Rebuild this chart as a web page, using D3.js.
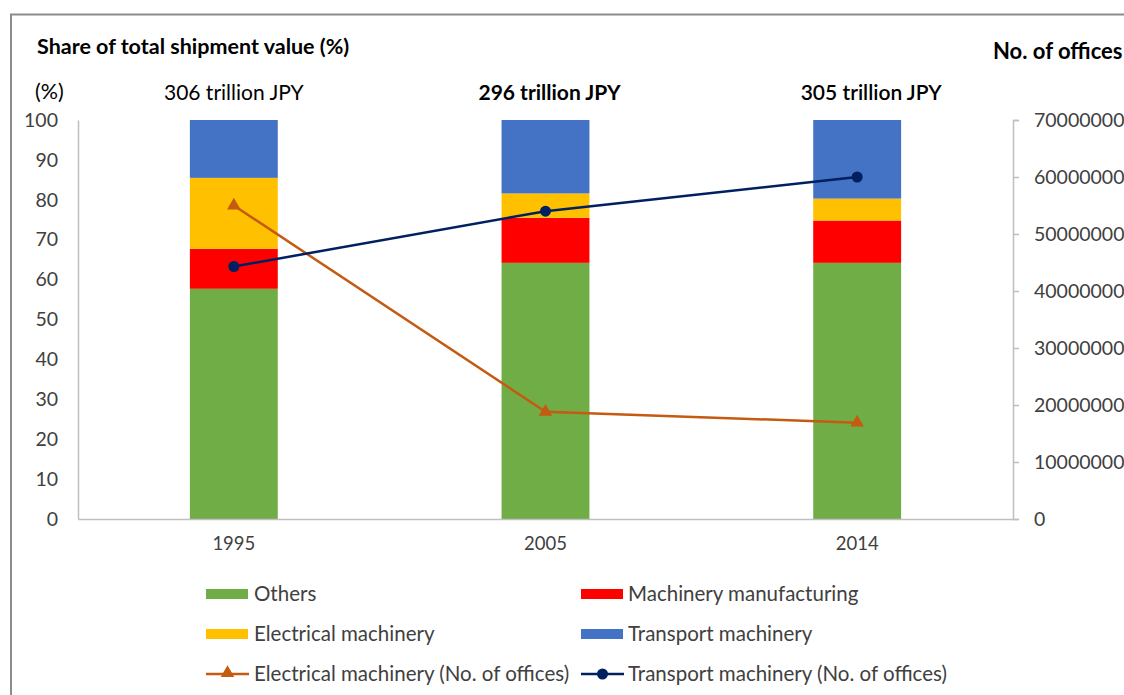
<!DOCTYPE html>
<html>
<head>
<meta charset="utf-8">
<script src="https://cdn.jsdelivr.net/npm/d3@7/dist/d3.min.js"></script>
<style>
  html, body { margin: 0; padding: 0; background: #fff; }
  svg { display: block; font-family: Lato, "Open Sans", sans-serif; }
</style>
</head>
<body>
<svg id="chart" width="1124" height="695"></svg>
<script>
// ---- data ----
const years = ["1995", "2005", "2014"];
const seriesNames = ["Others", "Machinery manufacturing", "Electrical machinery", "Transport machinery"];
const others = [57.7, 64.2, 64.2];
const machinery = [10.0, 11.3, 10.6];
const electrical = [17.8, 6.1, 5.5];
const transport = [14.5, 18.4, 19.7];
const totals = ["306 trillion JPY", "296 trillion JPY", "305 trillion JPY"];
const totalWeights = [400, 700, 600];
const elecOffices = [55000000, 18800000, 16900000];
const transOffices = [44300000, 54000000, 60000000];
const leftTicks = [0, 10, 20, 30, 40, 50, 60, 70, 80, 90, 100];
const rightTicks = [0, 10000000, 20000000, 30000000, 40000000, 50000000, 60000000, 70000000];
const lineNames = ["Electrical machinery (No. of offices)", "Transport machinery (No. of offices)"];

const colors = {
  "Others": "#70AD47",
  "Machinery manufacturing": "#FF0000",
  "Electrical machinery": "#FFC000",
  "Transport machinery": "#4472C4"
};
const elecLineColor = "#C55A11";
const transLineColor = "#002060";

const svg = d3.select("#chart");

// border
svg.append("path")
  .attr("d", "M11,700 L11,14.5 L1130,14.5")
  .attr("fill", "none").attr("stroke", "#8c8c8c").attr("stroke-width", 2);

const pL = 78, pR = 1013, pT = 120, pB = 519;

const x = d3.scaleBand().domain(years).range([pL, pR]).paddingInner(0.718).paddingOuter(0.359);
const y = d3.scaleLinear().domain([0, 100]).range([pB, pT]);
const y2 = d3.scaleLinear().domain([0, 70000000]).range([pB, pT]);

const table = years.map((yr, i) => ({
  year: yr,
  "Others": others[i],
  "Machinery manufacturing": machinery[i],
  "Electrical machinery": electrical[i],
  "Transport machinery": transport[i]
}));
const stacked = d3.stack().keys(seriesNames)(table);

// bars
svg.append("g").selectAll("g").data(stacked).join("g")
  .attr("fill", d => colors[d.key])
  .selectAll("rect").data(d => d).join("rect")
  .attr("x", d => x(d.data.year))
  .attr("width", x.bandwidth())
  .attr("y", d => y(d[1]))
  .attr("height", d => y(d[0]) - y(d[1]));

// axes
const textColor = "#404040";
const axisColor = "#BFBFBF";

const gl = svg.append("g").attr("transform", `translate(${pL},0)`)
  .call(d3.axisLeft(y).tickValues(leftTicks).tickSize(0).tickPadding(20));
gl.select(".domain").attr("stroke", axisColor).attr("stroke-width", 1.5);
gl.selectAll("text").attr("fill", textColor).style("font-size", "19.5px").style("font-family", "Lato, sans-serif");

const gr = svg.append("g").attr("transform", `translate(${pR},0)`)
  .call(d3.axisRight(y2).tickValues(rightTicks).tickSize(6).tickSizeOuter(6).tickPadding(15).tickFormat(d3.format("d")));
gr.select(".domain").attr("stroke", axisColor).attr("stroke-width", 1.5);
gr.selectAll(".tick line").attr("stroke", axisColor).attr("stroke-width", 1.5);
gr.selectAll("text").attr("fill", textColor).style("font-size", "19.5px").style("font-family", "Lato, sans-serif");

const gx = svg.append("g").attr("transform", `translate(0,${pB})`)
  .call(d3.axisBottom(x).tickSize(0).tickPadding(18));
gx.select(".domain").attr("stroke", axisColor).attr("stroke-width", 1.5);
gx.selectAll("text").attr("fill", textColor).style("font-size", "18.5px").style("font-family", "Lato, sans-serif");

// lines
const cx = yr => x(yr) + x.bandwidth() / 2;
const lineE = d3.line().x((d, i) => cx(years[i])).y(d => y2(d));
svg.append("path").datum(elecOffices).attr("d", lineE)
  .attr("fill", "none").attr("stroke", elecLineColor).attr("stroke-width", 2.5);
svg.append("g").selectAll("path").data(elecOffices).join("path")
  .attr("d", d3.symbol(d3.symbolTriangle, 80))
  .attr("transform", (d, i) => `translate(${cx(years[i])},${y2(d)})`)
  .attr("fill", elecLineColor);

svg.append("path").datum(transOffices).attr("d", lineE)
  .attr("fill", "none").attr("stroke", transLineColor).attr("stroke-width", 2.5);
svg.append("g").selectAll("circle").data(transOffices).join("circle")
  .attr("cx", (d, i) => cx(years[i])).attr("cy", d => y2(d)).attr("r", 5.5)
  .attr("fill", transLineColor);

// titles
svg.append("text").attr("x", 37).attr("y", 54).text("Share of total shipment value (%)")
  .attr("fill", "#000").style("font-size", "21.5px").style("font-weight", 700);
svg.append("text").attr("x", 993).attr("y", 59).text("No. of offices")
  .attr("fill", "#000").style("font-size", "22px").style("font-weight", 700);
svg.append("text").attr("x", 35).attr("y", 99).text("(%)")
  .attr("fill", "#000").style("font-size", "21.5px");
svg.append("g").selectAll("text").data(totals).join("text")
  .attr("x", (d, i) => cx(years[i]) + (i === 1 ? 4 : (i === 2 ? 14 : 0)))
  .attr("y", 100).attr("text-anchor", "middle")
  .text(d => d).attr("fill", "#000")
  .style("font-size", "21px").style("font-weight", (d, i) => totalWeights[i]);

// legend
const legendItems = [
  { name: seriesNames[0], type: "rect", col: 0, row: 0 },
  { name: seriesNames[1], type: "rect", col: 1, row: 0 },
  { name: seriesNames[2], type: "rect", col: 0, row: 1 },
  { name: seriesNames[3], type: "rect", col: 1, row: 1 },
  { name: lineNames[0], type: "tri", col: 0, row: 2 },
  { name: lineNames[1], type: "circ", col: 1, row: 2 }
];
const colX = [206, 581];
const rowY = [594, 634, 674];
const lg = svg.append("g").selectAll("g").data(legendItems).join("g")
  .attr("transform", d => `translate(${colX[d.col]},${rowY[d.row]})`);
lg.each(function(d) {
  const g = d3.select(this);
  if (d.type === "rect") {
    g.append("rect").attr("x", 0).attr("y", -5).attr("width", 42).attr("height", 10)
      .attr("fill", colors[d.name]);
  } else {
    const c = d.type === "tri" ? elecLineColor : transLineColor;
    g.append("line").attr("x1", 0).attr("x2", 43).attr("y1", 0).attr("y2", 0)
      .attr("stroke", c).attr("stroke-width", 2.5);
    if (d.type === "tri") {
      g.append("path").attr("d", d3.symbol(d3.symbolTriangle, 80)).attr("transform", "translate(21.5,-1)").attr("fill", c);
    } else {
      g.append("circle").attr("cx", 21.5).attr("cy", 0).attr("r", 5.5).attr("fill", c);
    }
  }
  g.append("text").attr("x", d.col === 0 ? 48 : 47).attr("y", 7).text(d.name)
    .attr("fill", textColor).style("font-size", "20.5px");
});
</script>
</body>
</html>
